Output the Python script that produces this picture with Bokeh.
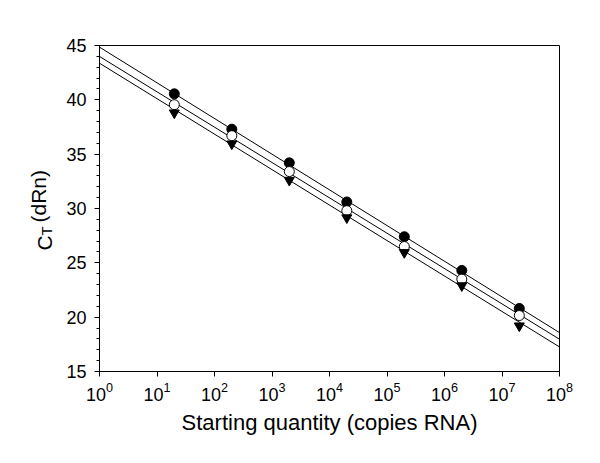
import math
from bokeh.plotting import figure
from bokeh.models import Label, FixedTicker, SingleIntervalTicker, LogTickFormatter
from bokeh.embed import file_html
from bokeh.resources import INLINE

# ---- data ----
quantity = [2e1, 2e2, 2e3, 2e4, 2e5, 2e6, 2e7]
ct_filled = [40.55, 37.3, 34.2, 30.6, 27.4, 24.3, 20.8]
ct_open = [39.55, 36.7, 33.4, 29.8, 26.5, 23.5, 20.15]
ct_triangle = [38.8, 35.95, 32.6, 29.15, 25.95, 22.9, 19.2]

fit_x = [1e0, 1e8]
fit_filled = [44.85, 18.58]
fit_open = [43.99, 17.97]
fit_triangle = [43.37, 17.26]

x_ticks = [1e0, 1e1, 1e2, 1e3, 1e4, 1e5, 1e6, 1e7, 1e8]
y_ticks = [15, 20, 25, 30, 35, 40, 45]

x_title = "Starting quantity (copies RNA)"
y_title_parts = ["C", "T", " (dRn)"]   # C with subscript T, then (dRn)

FONT = "Liberation Sans"

p = figure(width=584, height=447, x_axis_type="log",
           x_range=(1e0, 1e8), y_range=(15, 45),
           output_backend="svg", toolbar_location=None,
           min_border_left=95, min_border_right=25,
           min_border_top=45, min_border_bottom=76)
p.xgrid.visible = False
p.ygrid.visible = False
p.outline_line_color = "black"
p.outline_line_width = 1
p.background_fill_color = "white"
p.border_fill_color = "white"

for ys in (fit_filled, fit_open, fit_triangle):
    p.line(fit_x, ys, line_color="black", line_width=1)

p.scatter(quantity, ct_filled, marker="circle", size=10,
          fill_color="black", line_color="black")
p.scatter(quantity, ct_open, marker="circle", size=10,
          fill_color="white", line_color="black", line_width=1)
p.scatter(quantity, ct_triangle, marker="inverted_triangle", size=10,
          fill_color="black", line_color="black")

xa = p.xaxis[0]
xa.ticker = FixedTicker(ticks=x_ticks, minor_ticks=[])
xa.formatter = LogTickFormatter(min_exponent=0)
xa.axis_label = x_title
xa.axis_label_text_font = FONT
xa.axis_label_text_font_size = "22px"
xa.axis_label_text_font_style = "normal"
xa.axis_label_text_color = "black"
xa.axis_label_standoff = 6
xa.major_label_text_font = FONT
xa.major_label_text_font_size = "18px"
xa.major_label_text_color = "black"
xa.major_label_standoff = 5
xa.major_tick_in = 0
xa.major_tick_out = 5
xa.minor_tick_line_color = None
xa.axis_line_color = "black"
xa.major_tick_line_color = "black"

ya = p.yaxis[0]
ya.ticker = SingleIntervalTicker(interval=5, num_minor_ticks=5)
ya.axis_label = None
ya.major_label_text_font = FONT
ya.major_label_text_font_size = "18px"
ya.major_label_text_color = "black"
ya.major_label_standoff = 8
ya.major_tick_in = 0
ya.major_tick_out = 5
ya.minor_tick_in = 0
ya.minor_tick_out = 3
ya.axis_line_color = "black"
ya.major_tick_line_color = "black"
ya.minor_tick_line_color = "black"

# y axis title in the left side panel (each label gets its own column there,
# so the x offsets compensate for the stacking)
ang = math.pi / 2
common = dict(x_units="screen", y_units="screen", angle=ang, text_font=FONT,
              text_baseline="alphabetic", text_color="black")
p.add_layout(Label(text=y_title_parts[0], x=3.5, y=121, text_font_size="21px", **common), "left")
p.add_layout(Label(text=y_title_parts[1], x=22.5, y=136, text_font_size="15px", **common), "left")
p.add_layout(Label(text=y_title_parts[2], x=37.5, y=149, text_font_size="21px", **common), "left")

open("out.html", "w").write(file_html(p, INLINE))
